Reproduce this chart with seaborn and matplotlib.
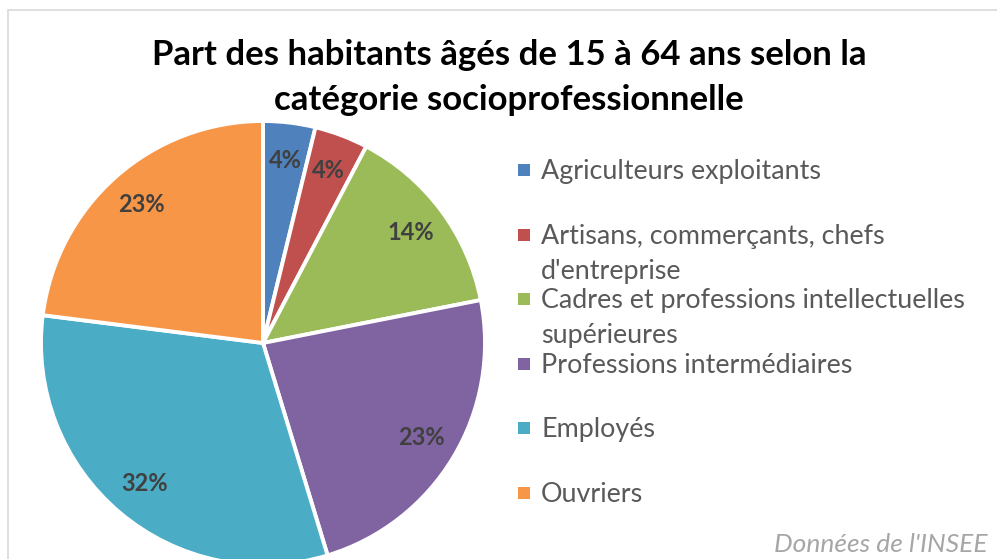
import matplotlib
matplotlib.use("Agg")
import matplotlib.pyplot as plt
from matplotlib.patches import Rectangle
import seaborn as sns

# data (in %)
categories = [
    "Agriculteurs exploitants",
    "Artisans, commerçants, chefs\nd'entreprise",
    "Cadres et professions intellectuelles\nsupérieures",
    "Professions intermédiaires",
    "Employés",
    "Ouvriers",
]
shares = [3.8, 3.9, 14.2, 23.4, 31.7, 23.0]
colors = ["#4F81BD", "#C0504D", "#9BBB59", "#8064A2", "#4BACC6", "#F79646"]

sns.set_theme(style="white")
plt.rcParams['font.family'] = ['Lato', 'DejaVu Sans']

W, H = 997, 559
fig = plt.figure(figsize=(W / 100, H / 100), dpi=100)

# light grey chart frame (right/bottom edges fall outside the picture)
fig.add_artist(Rectangle((8 / W, -0.1), 1.2, 1.1 - 10 / H, transform=fig.transFigure,
                         fill=False, edgecolor="#d9d9d9", linewidth=1.2, clip_on=False))

# pie axes: centre (263, 343) px, radius 222 px
cx, cy, r = 263, 343, 222
ax = fig.add_axes([(cx - r) / W, (H - cy - r) / H, 2 * r / W, 2 * r / H])
wedges, texts, autotexts = ax.pie(
    shares, colors=colors, startangle=90, counterclock=False,
    autopct="%.0f%%", pctdistance=0.83,
    wedgeprops=dict(edgecolor="white", linewidth=2.8),
    textprops=dict(fontsize=17, fontweight="bold", color="#404040"),
)
ax.set_xlim(-1, 1)
ax.set_ylim(-1, 1)
ax.set_aspect("auto")
for w in wedges:
    w.set_clip_on(False)

# title
fig.text(509 / W, 1 - 65 / H, "Part des habitants âgés de 15 à 64 ans selon la",
         ha="center", va="baseline", fontsize=25, fontweight="bold", color="black")
fig.text(509 / W, 1 - 110 / H, "catégorie socioprofessionnelle",
         ha="center", va="baseline", fontsize=25, fontweight="bold", color="black")

# legend, drawn entry by entry (Excel-like spacing)
y_first = 179
step = 64.6
for i, (lab, col) in enumerate(zip(categories, colors)):
    yb = y_first + i * step
    fig.add_artist(Rectangle((518 / W, 1 - (yb - 3) / H), 12 / W, 12 / H,
                             transform=fig.transFigure, facecolor=col, edgecolor="none"))
    lines = lab.split("\n")
    for j, ln in enumerate(lines):
        fig.text(541 / W, 1 - (yb + j * 35) / H, ln, ha="left", va="baseline",
                 fontsize=19.4, color="#595959")

# source note
fig.text(988 / W, 1 - 552 / H, "Données de l'INSEE", ha="right", va="baseline",
         fontsize=19, style="italic", color="#a6a6a6")

fig.savefig("out.png", dpi=100)
